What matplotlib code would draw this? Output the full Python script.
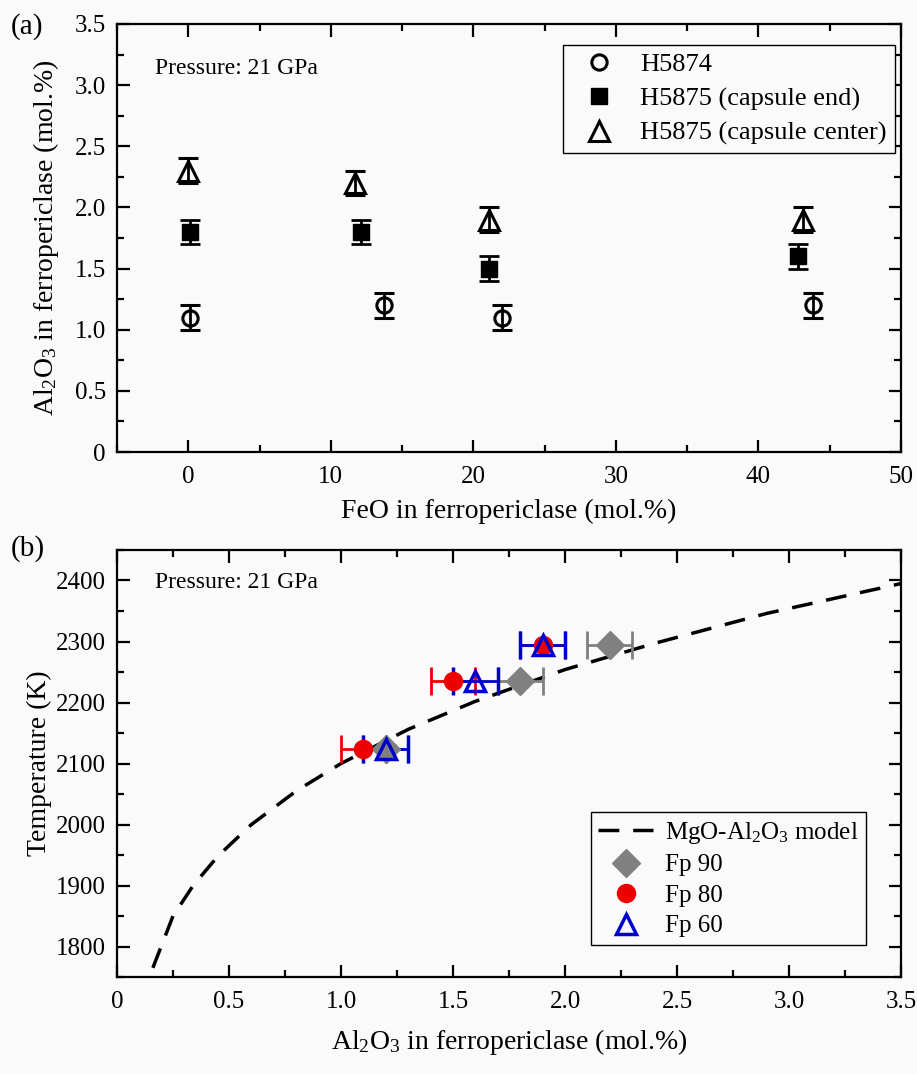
import numpy as np
import matplotlib
matplotlib.use('Agg')
import matplotlib.pyplot as plt
from matplotlib.lines import Line2D
from matplotlib.ticker import MultipleLocator

plt.rcParams['font.family'] = ['Liberation Serif', 'DejaVu Serif']
plt.rcParams['mathtext.fontset'] = 'custom'
plt.rcParams['mathtext.rm'] = 'Liberation Serif'
plt.rcParams['mathtext.it'] = 'Liberation Serif:italic'

# (a) Al2O3 vs FeO, 21 GPa
h5874_feo = [0.1, 13.7, 22.0, 43.8]
h5874_al = [1.1, 1.2, 1.1, 1.2]
end_feo = [0.1, 12.1, 21.1, 42.8]
end_al = [1.8, 1.8, 1.5, 1.6]
center_feo = [0.0, 11.7, 21.1, 43.1]
center_al = [2.3, 2.2, 1.9, 1.9]
err_a = 0.1

# (b) temperature vs Al2O3
temps = [2123, 2236, 2294]
fp90_al = [1.2, 1.8, 2.2]
fp80_al = [1.1, 1.5, 1.9]
fp60_al = [1.2, 1.6, 1.9]
err_b = 0.1

# model curve
model_al = [0.16, 0.25, 0.34, 0.45, 0.6, 0.8, 1.0, 1.3, 1.6, 2.0, 2.4, 2.9, 3.5]
model_t = [1765, 1850, 1900, 1948, 2000, 2055, 2100, 2156, 2202, 2254, 2297, 2346, 2395]

bg = '#fafafa'
fig = plt.figure(figsize=(9.17, 10.74), dpi=100, facecolor=bg)
ax1 = fig.add_axes([0.1276, 0.5791, 0.855, 0.3986], facecolor=bg)
ax2 = fig.add_axes([0.1276, 0.0903, 0.855, 0.3976], facecolor=bg)

tick_fs = 18
lab_fs = 20

def style(ax):
    for s in ax.spines.values():
        s.set_linewidth(1.6)
    ax.tick_params(which='both', direction='in', top=True, right=True, width=1.6,
                   labelsize=tick_fs, pad=8)
    ax.tick_params(which='major', length=9)
    ax.tick_params(which='minor', length=5)

legkw = dict(fancybox=False, edgecolor='black', framealpha=1, facecolor=bg,
             borderaxespad=0, borderpad=0.3, handlelength=2.2, handletextpad=0.45)

# panel a
ekw = dict(ls='none', capsize=7, elinewidth=2, capthick=2, ecolor='black')
ax1.errorbar(h5874_feo, h5874_al, yerr=err_a, marker='o', ms=11, mfc='none',
             mec='black', mew=2.2, **ekw)
ax1.errorbar(end_feo, end_al, yerr=err_a, marker='s', ms=11, mfc='black',
             mec='black', **ekw)
ax1.errorbar(center_feo, center_al, yerr=err_a, marker='^', ms=14, mfc='none',
             mec='black', mew=2.2, **ekw)
ax1.set_xlim(-5, 50)
ax1.set_ylim(0, 3.5)
ax1.xaxis.set_major_locator(MultipleLocator(10))
ax1.xaxis.set_minor_locator(MultipleLocator(5))
ax1.yaxis.set_minor_locator(MultipleLocator(0.25))
ax1.set_yticks(np.arange(0, 3.51, 0.5))
ax1.set_yticklabels(['0'] + ['%.1f' % v for v in np.arange(0.5, 3.51, 0.5)])
style(ax1)
ax1.tick_params(axis='x', pad=10)
ax1.set_xlabel('FeO in ferropericlase (mol.%)', fontsize=lab_fs, labelpad=8)
ax1.set_ylabel('Al$_2$O$_3$ in ferropericlase (mol.%)', fontsize=lab_fs, labelpad=10)
ax1.text(0.048, 0.897, 'Pressure: 21 GPa', transform=ax1.transAxes,
         fontsize=17, va='center')
h_a = [Line2D([], [], ls='none', marker='o', ms=11, mfc='none', mec='black', mew=2.2),
       Line2D([], [], ls='none', marker='s', ms=11, mfc='black', mec='black'),
       Line2D([], [], ls='none', marker='^', ms=14, mfc='none', mec='black', mew=2.2)]
leg = ax1.legend(h_a, ['H5874', 'H5875 (capsule end)', 'H5875 (capsule center)'],
                 loc='upper right', bbox_to_anchor=(0.992, 0.951), fontsize=19,
                 labelspacing=0.4, **legkw)
leg.get_frame().set_linewidth(1.0)

# panel b
ax2.plot(model_al, model_t, color='black', lw=2.5, dashes=(6, 4))
grey, red, blue = '#808080', '#ee0000', '#0000cc'
ax2.errorbar(fp90_al, temps, xerr=err_b, ls='none', marker='D', ms=14, color=grey,
             mec=grey, capsize=10, elinewidth=2, capthick=2)
ax2.errorbar(fp80_al, temps, xerr=err_b, ls='none', marker='o', ms=13, color=red,
             mec=red, capsize=10, elinewidth=2, capthick=2)
ax2.errorbar(fp60_al, temps, xerr=err_b, ls='none', marker='^', ms=14, color=blue,
             mfc='none', mec=blue, mew=2.5, capsize=10, elinewidth=2, capthick=2)
ax2.set_xlim(0, 3.5)
ax2.set_ylim(1750, 2450)
ax2.set_xticks(np.arange(0, 3.51, 0.5))
ax2.set_xticklabels(['0'] + ['%.1f' % v for v in np.arange(0.5, 3.51, 0.5)])
ax2.xaxis.set_minor_locator(MultipleLocator(0.25))
ax2.yaxis.set_major_locator(MultipleLocator(100))
ax2.yaxis.set_minor_locator(MultipleLocator(50))
style(ax2)
ax2.tick_params(axis='x', pad=10)
ax2.set_xlabel('Al$_2$O$_3$ in ferropericlase (mol.%)', fontsize=lab_fs, labelpad=10)
ax2.set_ylabel('Temperature (K)', fontsize=lab_fs, labelpad=3)
ax2.text(0.048, 0.925, 'Pressure: 21 GPa', transform=ax2.transAxes,
         fontsize=17, va='center')
h_b = [Line2D([], [], color='black', lw=2.5, dashes=(6, 4)),
       Line2D([], [], ls='none', marker='D', ms=14, color=grey),
       Line2D([], [], ls='none', marker='o', ms=13, color=red),
       Line2D([], [], ls='none', marker='^', ms=14, mfc='none', mec=blue, mew=2.5)]
leg2 = ax2.legend(h_b, ['MgO-Al$_2$O$_3$ model', 'Fp 90', 'Fp 80', 'Fp 60'],
                  loc='lower right', bbox_to_anchor=(0.955, 0.075), fontsize=18,
                  labelspacing=0.32, **legkw)
leg2.get_frame().set_linewidth(1.0)

fig.text(0.012, 0.969, '(a)', fontsize=21)
fig.text(0.012, 0.483, '(b)', fontsize=21)

fig.savefig('out.png', dpi=100, facecolor=bg)
